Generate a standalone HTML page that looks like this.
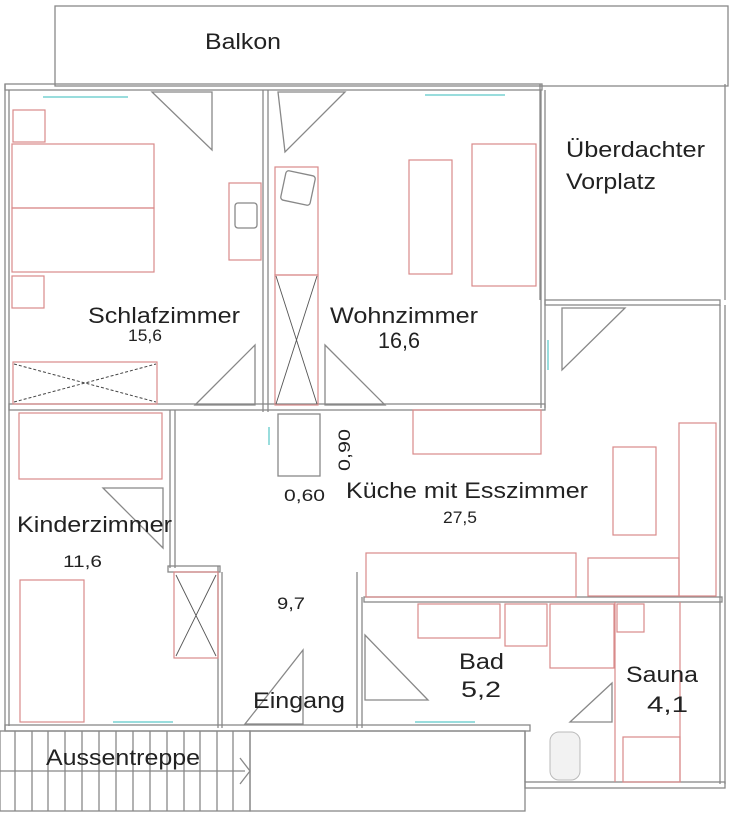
<!DOCTYPE html>
<html><head><style>
html,body{margin:0;padding:0;background:#fff}
svg{display:block}
text{font-family:"Liberation Sans",sans-serif;fill:#222}
</style></head><body>
<svg width="731" height="821" viewBox="0 0 731 821" xmlns="http://www.w3.org/2000/svg">
<g fill="none" stroke="#888" stroke-width="1.3">
<rect x="55" y="6" width="673" height="80"/>
<path d="M540 84 V300 M725 84 V300"/>
<rect x="545" y="300" width="175" height="5"/>
<rect x="5" y="84" width="537" height="6"/>
<path d="M5 84 V730 M9 90 V726"/>
<path d="M263 90 V412 M268 90 V412"/>
<path d="M541 90 V408 M545 90 V408"/>
<rect x="9" y="404" width="536" height="6"/>
<path d="M170 410 V568 M175 410 V568"/>
<rect x="168" y="566" width="52" height="6"/>
<path d="M218 566 V728 M222 572 V728"/>
<path d="M720 305 V784 M725 305 V784"/>
<rect x="364" y="597" width="358" height="5"/>
<path d="M357 572 V728 M362 597 V728"/>
<rect x="5" y="725" width="525" height="6"/>
<rect x="525" y="782" width="200" height="6"/>
<path d="M525 731 V782"/>
<rect x="0" y="731" width="250" height="80"/>
<rect x="250" y="731" width="275" height="80"/>
<path d="M0 771 H245"/>
<path d="M240 758 L250 771 L240 784"/>
<path d="M15 731V811M32 731V811M48 731V811M65 731V811M82 731V811M99 731V811M116 731V811M133 731V811M150 731V811M167 731V811M184 731V811M200 731V811M217 731V811M233 731V811"/>
<path d="M152 92 L212 92 L212 150 Z"/>
<path d="M278 92 L345 92 L285 152 Z"/>
<path d="M255 345 V405 H195 Z"/>
<path d="M325 345 V405 H385 Z"/>
<path d="M562 308 H625 L562 370 Z"/>
<path d="M103 488 H163 V548 Z"/>
<path d="M303 650 V724 H245 Z"/>
<path d="M365 635 L428 700 H365 Z"/>
<path d="M612 683 V722 L570 722 Z"/>
<rect x="283" y="173" width="30" height="30" rx="3" transform="rotate(12 298 188)"/>
<rect x="235" y="203" width="22" height="25" rx="3"/>
<rect x="278" y="414" width="42" height="62"/>
</g>
<g fill="none" stroke="#d98a8a" stroke-width="1.2">
<rect x="13" y="110" width="32" height="32"/>
<rect x="12" y="144" width="142" height="64"/>
<rect x="12" y="208" width="142" height="64"/>
<rect x="12" y="276" width="32" height="32"/>
<rect x="13" y="362" width="144" height="42"/>
<rect x="229" y="183" width="32" height="77"/>
<rect x="275" y="167" width="43" height="108"/>
<rect x="275" y="275" width="43" height="130"/>
<rect x="409" y="160" width="43" height="114"/>
<rect x="472" y="144" width="64" height="142"/>
<rect x="19" y="413" width="143" height="66"/>
<rect x="413" y="410" width="128" height="44"/>
<rect x="613" y="447" width="43" height="88"/>
<rect x="679" y="423" width="37" height="173"/>
<rect x="588" y="558" width="91" height="38"/>
<rect x="366" y="553" width="210" height="44"/>
<rect x="20" y="580" width="64" height="142"/>
<rect x="174" y="572" width="44" height="86"/>
<rect x="418" y="604" width="82" height="34"/>
<rect x="505" y="604" width="42" height="42"/>
<rect x="550" y="604" width="64" height="64"/>
<rect x="617" y="604" width="27" height="28"/>
<path d="M615 602 V782 M680 602 V782"/>
<rect x="623" y="737" width="57" height="45"/>
</g>
<g stroke="#444" stroke-width="1" stroke-dasharray="3,2">
<path d="M14 364 L156 402 M14 402 L156 364"/>
</g>
<g stroke="#555" stroke-width="0.9">
<path d="M276 276 L317 404 M317 276 L276 404"/>
<path d="M176 575 L216 656 M216 575 L176 656"/>
</g>
<rect x="550" y="732" width="30" height="48" rx="9" fill="#f2f2f2" stroke="#bbb"/>
<g stroke="#9dd" stroke-width="2">
<path d="M43 97 H128 M425 95 H505 M548 340 V370 M269 427 V445 M113 722 H173 M415 722 H475"/>
</g>
<g font-size="22">
<text x="205" y="49" textLength="76" lengthAdjust="spacingAndGlyphs">Balkon</text>
<text x="566" y="157" textLength="139" lengthAdjust="spacingAndGlyphs">Überdachter</text>
<text x="566" y="189" textLength="90" lengthAdjust="spacingAndGlyphs">Vorplatz</text>
<text x="88" y="323" textLength="152" lengthAdjust="spacingAndGlyphs">Schlafzimmer</text>
<text x="330" y="323" textLength="148" lengthAdjust="spacingAndGlyphs">Wohnzimmer</text>
<text x="346" y="498" textLength="242" lengthAdjust="spacingAndGlyphs">Küche mit Esszimmer</text>
<text x="17" y="532" textLength="155" lengthAdjust="spacingAndGlyphs">Kinderzimmer</text>
<text x="253" y="708" textLength="92" lengthAdjust="spacingAndGlyphs">Eingang</text>
<text x="459" y="669" textLength="45" lengthAdjust="spacingAndGlyphs">Bad</text>
<text x="461" y="697" textLength="40" lengthAdjust="spacingAndGlyphs">5,2</text>
<text x="626" y="682" textLength="72" lengthAdjust="spacingAndGlyphs">Sauna</text>
<text x="647" y="712" textLength="41" lengthAdjust="spacingAndGlyphs">4,1</text>
<text x="46" y="765" textLength="154" lengthAdjust="spacingAndGlyphs">Aussentreppe</text>
<text x="378" y="348" textLength="42" lengthAdjust="spacingAndGlyphs">16,6</text>
</g>
<g font-size="17">
<text x="128" y="341" textLength="34" lengthAdjust="spacingAndGlyphs">15,6</text>
<text x="443" y="523" textLength="34" lengthAdjust="spacingAndGlyphs">27,5</text>
<text x="63" y="567" textLength="39" lengthAdjust="spacingAndGlyphs">11,6</text>
<text x="277" y="609" textLength="28" lengthAdjust="spacingAndGlyphs">9,7</text>
<text x="284" y="501" textLength="41" lengthAdjust="spacingAndGlyphs">0,60</text>
<text x="350" y="471" transform="rotate(-90 350 471)" textLength="42" lengthAdjust="spacingAndGlyphs">0,90</text>
</g>
</svg>
</body></html>
